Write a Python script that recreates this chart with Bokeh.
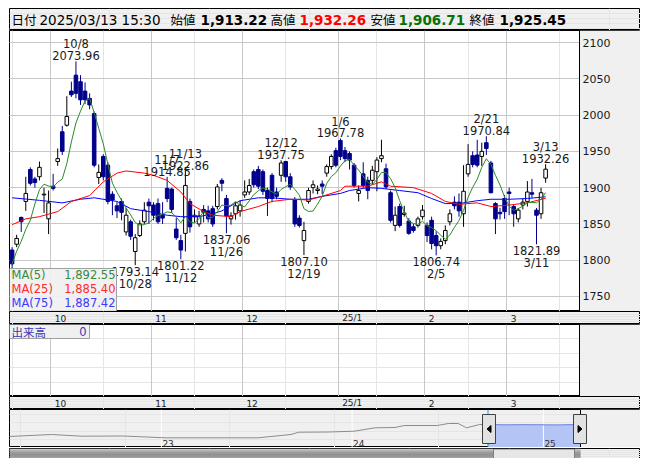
import numpy as np
import pandas as pd
from bokeh.plotting import figure
from bokeh.layouts import column
from bokeh.models import Range1d, FixedTicker, Grid, ColumnDataSource
from bokeh.core.properties import value
from bokeh.embed import file_html
from bokeh.resources import INLINE

# ---------------- data ----------------
dates = (["2024-09-%s" % d for d in ["17", "18", "19", "20", "24", "25", "26", "27", "30"]]
         + ["2024-10-%s" % d for d in ["01", "02", "03", "04", "07", "08", "09", "10", "11", "15", "16",
                                        "17", "18", "21", "22", "23", "24", "25", "28", "29", "30", "31"]]
         + ["2024-11-%s" % d for d in ["01", "05", "06", "07", "08", "11", "12", "13", "14", "15", "18",
                                        "19", "20", "21", "22", "25", "26", "27", "28", "29"]]
         + ["2024-12-%s" % d for d in ["02", "03", "04", "05", "06", "09", "10", "11", "12", "13", "16",
                                        "17", "18", "19", "20", "23", "24", "25", "26", "27", "30"]]
         + ["2025-01-%s" % d for d in ["06", "07", "08", "09", "10", "14", "15", "16", "17", "20", "21",
                                        "22", "23", "24", "27", "28", "29", "30", "31"]]
         + ["2025-02-%s" % d for d in ["03", "04", "05", "06", "07", "10", "12", "13", "14", "17", "18",
                                        "19", "20", "21", "25", "26", "27", "28"]]
         + ["2025-03-%s" % d for d in ["03", "04", "05", "06", "07", "10", "11", "12", "13"]])

opens = [1814, 1822, 1859, 1881, 1925, 1912, 1915, 1890, 1857,
         1902, 1936, 1977, 1986, 2033, 2055, 2046, 2033, 2023, 2002, 1914, 1943, 1931, 1891, 1875, 1881,
         1839, 1853, 1812, 1834, 1853, 1880,
         1876, 1878, 1862, 1899, 1898, 1843, 1827, 1837, 1881, 1860, 1850, 1870, 1868, 1871, 1874, 1910,
         1885, 1857, 1864, 1868,
         1890, 1894, 1922, 1925, 1922, 1896, 1917, 1894, 1917, 1936, 1915, 1883, 1858, 1827, 1881, 1900,
         1896, 1905, 1920, 1929, 1951,
         1965, 1951, 1947, 1931, 1892, 1919, 1910, 1910, 1922, 1940, 1926, 1893, 1848, 1874, 1863, 1854,
         1846, 1848, 1860,
         1848, 1855, 1834, 1820, 1827, 1853, 1880, 1880, 1864, 1919, 1944, 1945, 1943, 1962, 1934, 1878,
         1866, 1885,
         1894, 1874, 1857, 1876, 1881, 1893, 1869, 1864, 1913.22]
highs = [1818, 1835, 1860, 1915, 1928, 1915, 1936, 1900, 1896,
         1919, 1954, 1985, 2026, 2046, 2073.96, 2055, 2045, 2030, 2005, 1932, 1946, 1935, 1895, 1880, 1885,
         1872, 1856, 1836, 1855, 1880, 1885,
         1880, 1885, 1880, 1914.85, 1900, 1858, 1835, 1922.86, 1885, 1870, 1868, 1876, 1875, 1875, 1905,
         1913, 1890, 1866, 1880, 1882,
         1910, 1912, 1925, 1930, 1925, 1900, 1920, 1900, 1937.75, 1937, 1920, 1887, 1862, 1853, 1900, 1910,
         1903, 1910, 1932, 1946, 1955,
         1967.78, 1956, 1950, 1934, 1903, 1935, 1915, 1930, 1942, 1966, 1933, 1896, 1874, 1878, 1875, 1858,
         1850, 1860, 1876,
         1852, 1860, 1840, 1830, 1848, 1870, 1888, 1892, 1931, 1960, 1950, 1966, 1962, 1970.84, 1937, 1880,
         1872, 1890,
         1900, 1877, 1872, 1885, 1909, 1912, 1872, 1900, 1932.26]
lows = [1780, 1818, 1839, 1868, 1903, 1900, 1910, 1865, 1836,
        1896, 1930, 1945, 1984, 2025, 2023, 2014, 2015, 2008, 1928, 1905, 1910, 1877, 1862, 1858, 1855,
        1834, 1828, 1793.14, 1832, 1850, 1850,
        1855, 1850, 1850, 1880, 1865, 1828, 1801.22, 1812, 1838, 1852, 1846, 1852, 1852, 1846, 1870, 1895,
        1837.06, 1849, 1856, 1860,
        1886, 1890, 1900, 1898, 1890, 1861, 1880, 1884, 1908, 1908, 1897, 1846, 1845, 1807.10, 1878, 1892,
        1891, 1891, 1915, 1925, 1928,
        1938, 1935, 1925, 1900, 1881, 1900, 1884, 1905, 1895, 1935, 1898, 1852, 1840, 1845, 1860, 1835,
        1838, 1845, 1856,
        1825, 1815, 1806.74, 1815, 1822, 1848, 1870, 1860, 1846, 1915, 1928, 1928, 1930, 1945, 1892, 1836,
        1856, 1857,
        1862, 1846, 1852, 1870, 1874, 1886, 1821.89, 1857, 1906.71]
closes = [1795, 1830, 1853, 1892, 1906, 1907, 1928, 1891, 1879,
          1899, 1940, 1950, 1998, 2028, 2030, 2021, 2021, 2014, 1931, 1921, 1915, 1881, 1883, 1868, 1866,
          1862, 1833, 1831, 1850, 1869, 1875,
          1862, 1853, 1858, 1885, 1870, 1831, 1814, 1903, 1846, 1862, 1861, 1866, 1857, 1850, 1901, 1906,
          1861, 1861, 1875, 1876,
          1894, 1903, 1904, 1902, 1895, 1885, 1885, 1888, 1934, 1915, 1901, 1850, 1848, 1841, 1896, 1904,
          1898, 1902, 1929, 1943, 1931,
          1943, 1940, 1938, 1903, 1896, 1903, 1896, 1924, 1938, 1944, 1901, 1855, 1862, 1848, 1865, 1837,
          1841, 1857, 1869,
          1834, 1823, 1820, 1826, 1841, 1864, 1875, 1868, 1895, 1932, 1932, 1931, 1950, 1954, 1893, 1857,
          1864, 1867,
          1892, 1864, 1869, 1880, 1894, 1891, 1862, 1893, 1925.45]

# moving averages (day index, value)
ma25_idx = [0, 3, 6, 10, 13, 17, 20, 23, 25, 29, 31, 34, 37, 39, 42, 44, 48, 50, 54, 57, 61, 65, 68,
            72, 73, 78, 81, 83, 88, 92, 95, 98, 102, 105, 109, 113, 117]
ma25_val = [1849, 1857, 1860, 1867, 1881, 1889, 1908, 1920, 1923, 1920, 1917, 1910, 1894, 1878, 1867,
            1862, 1860, 1867, 1874, 1881, 1884, 1883, 1888, 1896, 1902, 1902, 1908, 1902, 1900, 1892, 1881,
            1877, 1879, 1874, 1876, 1879, 1885.40]
ma75_idx = [0, 6, 11, 15, 18, 23, 26, 30, 34, 37, 41, 44, 46, 50, 54, 57, 61, 65, 68, 72, 74, 78, 81,
            85, 89, 92, 95, 98, 102, 105, 109, 113, 117]
ma75_val = [1886, 1882.5, 1879, 1884, 1886, 1881, 1871, 1867, 1862, 1860, 1860, 1864, 1868, 1882, 1886,
            1886, 1884, 1884, 1888, 1892, 1896, 1900, 1899, 1896, 1893, 1885, 1878, 1878, 1882, 1884, 1884,
            1885, 1887.42]

price_ticks = [1750, 1800, 1850, 1900, 1950, 2000, 2050, 2100]
month_labels = ["10", "11", "12", "25/1", "2", "3"]
month_first = ["2024-10-01", "2024-11-01", "2024-12-02", "2025-01-06", "2025-02-03", "2025-03-03"]

high_marks = ["2024-10-08", "2024-11-07", "2024-11-13", "2024-12-12", "2025-01-06", "2025-02-21", "2025-03-13"]
low_marks = ["2024-10-28", "2024-11-12", "2024-11-26", "2024-12-19", "2025-02-05", "2025-03-11"]

legend_names = ["MA(5)", "MA(25)", "MA(75)"]
legend_values = ["1,892.55", "1,885.40", "1,887.42"]
ma_colors = ["#2a8a2a", "#ff0000", "#0000ff"]
legend_colors = ["#3a8a3a", "#ff2a2a", "#3a3aff"]

header_labels = ["日付", "始値", "高値", "安値", "終値"]
header_stamp = "2025/03/13 15:30"
header_values = ["1,913.22", "1,932.26", "1,906.71", "1,925.45"]
header_value_colors = ["#000000", "#ff0000", "#087008", "#000000"]

volume_label = "出来高"
volume_value = "0"

nav_dates = ["2022-03-15", "2022-06-05", "2022-08-01", "2022-10-20", "2023-01-08", "2023-04-10",
             "2023-07-05", "2023-09-06", "2023-09-21", "2023-11-16", "2024-01-05", "2024-02-14",
             "2024-03-23", "2024-04-10", "2024-06-12", "2024-07-03", "2024-07-22", "2024-08-07",
             "2024-09-01", "2024-09-17", "2024-10-20", "2024-11-25", "2024-12-20", "2025-01-25",
             "2025-03-13"]
nav_level = [1170, 1290, 1188, 1200, 1092, 1092, 1092, 1290, 1428, 1440, 1488, 1692, 1710, 1830, 1830,
             1950, 1950, 1692, 1890, 1890, 1870, 1880, 1875, 1865, 1890]
nav_years = ["2023-01-01", "2024-01-01", "2025-01-01"]
nav_year_labels = ["23", "24", "25"]

# ---------------- layout constants ----------------
LB = 9
FW = 631
W = FW + LB
TOP = 8
SEP = 570
STEP = 4.56
X0 = -2.6 / STEP
LAT = value("DejaVu Sans")
CJK = value("Noto Sans CJK JP")
GRID = "#c8c8c8"
PANEL = "#f0f0f0"
UPC = "#000000"
DNC = "#00008b"

xr = Range1d(X0, X0 + FW / STEP)


def base(height, x_range, y_range, bg, top=0):
    f = figure(width=W, height=height, x_range=x_range, y_range=y_range, title=None,
               output_backend="svg", toolbar_location=None, x_axis_location=None,
               y_axis_location=None, min_border_left=LB, min_border_right=0,
               min_border_top=top, min_border_bottom=0, background_fill_color=bg,
               border_fill_color="white", outline_line_color="black")
    f.extra_x_ranges = {"px": Range1d(0, FW)}
    f.extra_y_ranges = {"px": Range1d(height - top, 0)}
    return f


def px_kw():
    return dict(x_range_name="px", y_range_name="px")


idx = np.arange(len(dates))
o = np.array(opens, dtype=float)
hi = np.array(highs, dtype=float)
lo = np.array(lows, dtype=float)
c = np.array(closes, dtype=float)
d2i = {d: i for i, d in enumerate(dates)}
month_grid = [d2i[d] - 0.5 for d in month_first]

# ---------------- header ----------------
hh = 22 + TOP
hd = base(hh, Range1d(0, FW), Range1d(22, 0), PANEL, top=TOP)
hx_lab = [2, 161, 261, 361, 460]
hd.text(x=hx_lab, y=[11] * 5, text=header_labels, text_font=CJK, text_font_size="12.5px",
        text_baseline="middle", text_color="#000000")
hd.text(x=[30], y=[11], text=[header_stamp], text_font=LAT, text_font_size="13.5px",
        text_baseline="middle", text_color="#000000")
hd.text(x=[191, 290, 389, 490], y=[11] * 4, text=header_values, text_font=LAT,
        text_font_size="13.5px", text_font_style="bold", text_baseline="middle",
        text_color=header_value_colors)

# ---------------- price panel ----------------
ph = 281
YHI = 2100 + 12 / 0.72571
YLO = 1750 - 15 / 0.72571
p = base(ph, xr, Range1d(YLO, YHI), "white")
p.add_layout(Grid(dimension=1, ticker=FixedTicker(ticks=price_ticks), grid_line_color=GRID))
p.add_layout(Grid(dimension=0, ticker=FixedTicker(ticks=month_grid), grid_line_color=GRID))

up = c >= o
s_up = ColumnDataSource(dict(x=idx[up], top=c[up], bottom=o[up], high=hi[up], low=lo[up]))
s_dn = ColumnDataSource(dict(x=idx[~up], top=o[~up], bottom=c[~up], high=hi[~up], low=lo[~up]))
p.segment(x0="x", y0="low", x1="x", y1="high", source=s_dn, line_color=DNC, line_width=1)
p.vbar(x="x", width=0.78, top="top", bottom="bottom", source=s_dn, fill_color=DNC, line_color=DNC)
p.segment(x0="x", y0="low", x1="x", y1="high", source=s_up, line_color=UPC, line_width=1)
p.vbar(x="x", width=0.78, top="top", bottom="bottom", source=s_up, fill_color="white", line_color=UPC)

ma5 = pd.Series(c).rolling(5, min_periods=1).mean().to_numpy()
p.line(ma75_idx, ma75_val, line_color=ma_colors[2], line_width=1)
p.line(ma25_idx, ma25_val, line_color=ma_colors[1], line_width=1)
p.line(idx, ma5, line_color=ma_colors[0], line_width=1)


def md(d):
    return "%d/%d" % (int(d[5:7]), int(d[8:10]))


hsrc = ColumnDataSource(dict(x=[d2i[d] for d in high_marks], y=[highs[d2i[d]] for d in high_marks],
                             t=["%s\n%.2f" % (md(d), highs[d2i[d]]) for d in high_marks]))
lsrc = ColumnDataSource(dict(x=[d2i[d] for d in low_marks], y=[lows[d2i[d]] for d in low_marks],
                             t=["%.2f\n%s" % (lows[d2i[d]], md(d)) for d in low_marks]))
p.text(x="x", y="y", text="t", source=hsrc, text_align="center", text_baseline="bottom",
       text_font=LAT, text_font_size="11.5px", text_line_height=0.85, text_color="#1a1a1a",
       y_offset=2)
p.text(x="x", y="y", text="t", source=lsrc, text_align="center", text_baseline="top",
       text_font=LAT, text_font_size="11.5px", text_line_height=0.85, text_color="#1a1a1a",
       y_offset=0)

# right price scale panel
p.quad(left=[SEP], right=[FW], top=[0], bottom=[ph], fill_color=PANEL, line_color=None, **px_kw())
p.segment(x0=[SEP], y0=[0], x1=[SEP], y1=[ph], line_color="black", **px_kw())
p.text(x=[SEP + 3] * len(price_ticks), y=price_ticks, text=[str(t) for t in price_ticks],
       x_range_name="px", text_font=LAT, text_font_size="11px", text_baseline="middle",
       text_color="#1a1a1a")

# MA legend box
p.quad(left=[0], right=[107], top=[238], bottom=[ph], fill_color=PANEL, fill_alpha=0.92,
       line_color="#a0a0a0", **px_kw())
p.text(x=[2] * 3, y=[244, 258, 272], text=legend_names, text_color=legend_colors,
       text_font=LAT, text_font_size="11.5px", text_baseline="middle", **px_kw())
p.text(x=[106] * 3, y=[244, 258, 272], text=legend_values, text_color=legend_colors,
       text_font=LAT, text_font_size="11.5px", text_baseline="middle", text_align="right", **px_kw())


# ---------------- axis strips ----------------
def strip(height):
    s = base(height, xr, Range1d(0, 1), PANEL)
    s.text(x=month_grid, y=[0.5] * len(month_grid), text=month_labels, x_offset=4,
           text_font=LAT, text_font_size="9px", text_baseline="middle", text_color="#202020")
    return s


s1 = strip(13)

# ---------------- volume panel ----------------
vh = 72
v = base(vh, xr, Range1d(0, 1), "white")
v.add_layout(Grid(dimension=0, ticker=FixedTicker(ticks=month_grid), grid_line_color=GRID))
v.quad(left=[SEP], right=[FW], top=[0], bottom=[vh], fill_color=PANEL, line_color=None, **px_kw())
v.segment(x0=[SEP], y0=[0], x1=[SEP], y1=[vh], line_color="black", **px_kw())
v.quad(left=[0], right=[80], top=[0], bottom=[14], fill_color=PANEL, line_color="#a0a0a0", **px_kw())
v.text(x=[2], y=[7], text=[volume_label], text_font=CJK, text_font_size="11.5px",
       text_baseline="middle", text_color="#3838b8", **px_kw())
v.text(x=[77], y=[7], text=[volume_value], text_font=LAT, text_font_size="11.5px",
       text_baseline="middle", text_align="right", text_color="#3838b8", **px_kw())

s2 = strip(13)

# ---------------- navigator ----------------
nh = 38
ref = pd.Timestamp("2025-01-01")
PXD = 0.5226
sel0 = (pd.Timestamp(dates[0]) - ref).days
sel1 = (pd.Timestamp(dates[-1]) - ref).days
NAV0 = sel0 - 478.5 / PXD
n = base(nh, Range1d(NAV0, NAV0 + FW / PXD), Range1d(510, 2790), PANEL)
nd = np.array([(pd.Timestamp(d) - ref).days for d in nav_dates], dtype=float)
nv = np.array(nav_level, dtype=float)
sel = (nd >= sel0) & (nd <= sel1)
n.varea(x=nd[sel], y1=nv[sel], y2=510, fill_color="#b3c4f5")
yd = [(pd.Timestamp(d) - ref).days for d in nav_years]
n.segment(x0=yd, x1=yd, y0=[510] * 3, y1=[2790] * 3, line_color="white", line_width=1)
n.line(nd[~sel | (nd == sel0)], nv[~sel | (nd == sel0)], line_color="#8c8c8c", line_width=1)
n.line(nd[sel], nv[sel], line_color="#6f7fd8", line_width=1)
n.text(x=yd, y=[780] * 3, text=nav_year_labels, x_offset=1, text_font=LAT, text_font_size="9px",
       text_baseline="middle", text_color="#303030")
n.segment(x0=[sel0, sel1], x1=[sel0, sel1], y0=[510, 510], y1=[2790, 2790], line_color="#2a9ad0")
n.quad(left=[571], right=[FW], top=[0], bottom=[nh], fill_color=PANEL, line_color=None, **px_kw())
n.segment(x0=[571], y0=[0], x1=[571], y1=[nh], line_color="black", **px_kw())
n.quad(left=[473, 564], right=[486, 577], top=[5, 5], bottom=[34, 34], fill_color="#e2e2e2",
       line_color="#404040", **px_kw())
n.patches(xs=[[477.5, 481.5, 481.5], [568.5, 572.5, 568.5]],
          ys=[[19.5, 16, 23], [16, 19.5, 23]], fill_color="black", line_color="black", **px_kw())

# ---------------- scrollbar ----------------
sh = 11
sc = base(sh, Range1d(0, FW), Range1d(sh, 0), PANEL)
bar_shades = ["#c8c8c8", "#b0b0b0", "#9c9c9c", "#8c8c8c", "#808080", "#787878", "#747474",
              "#787878", "#808080", "#8c8c8c", "#9c9c9c"]
sc.quad(left=[0] * sh, right=[484] * sh, top=list(range(sh)), bottom=list(range(1, sh + 1)),
        fill_color=bar_shades, line_color=None)
sc.quad(left=[565] * sh, right=[571] * sh, top=list(range(sh)), bottom=list(range(1, sh + 1)),
        fill_color=bar_shades, line_color=None)
sc.quad(left=[484], right=[565], top=[0.5], bottom=[sh - 0.5], fill_color="#e6e6e6",
        line_color="#808080")

layout = column(hd, p, s1, v, s2, n, sc, spacing=0)
open("out.html", "w").write(file_html(layout, INLINE))
